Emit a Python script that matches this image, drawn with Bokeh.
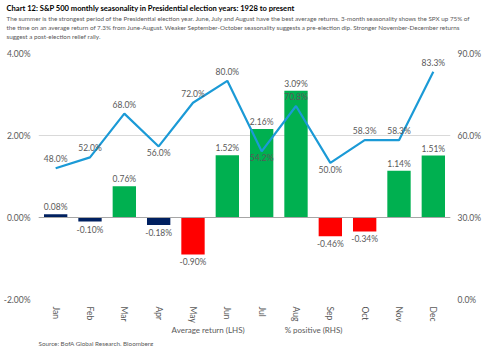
from bokeh.plotting import figure
from bokeh.layouts import column
from bokeh.models import (Range1d, LinearAxis, FixedTicker, PrintfTickFormatter,
                          ColumnDataSource, Span, Legend, LegendItem, Title, FactorRange)
from bokeh.embed import file_html
from bokeh.resources import INLINE

months = ["Jan", "Feb", "Mar", "Apr", "May", "Jun", "Jul", "Aug", "Sep", "Oct", "Nov", "Dec"]
avg_return = [0.08, -0.10, 0.76, -0.18, -0.90, 1.52, 2.16, 3.09, -0.46, -0.34, 1.14, 1.51]
pct_positive = [48.0, 52.0, 68.0, 56.0, 72.0, 80.0, 54.2, 70.8, 50.0, 58.3, 58.3, 83.3]
left_ticks = [-2, 0, 2, 4]
right_ticks = [0, 30, 60, 90]
legend_labels = ["Average return (LHS)", "% positive (RHS)"]

headline = "Chart 12: S&P 500 monthly seasonality in Presidential election years: 1928 to present"
subtitle_lines = [
    "The summer is the strongest period of the Presidential election year. June, July and August have the best average returns. 3-month seasonality shows the SPX up 75% of",
    "the time on an average return of 7.3% from June-August. Weaker September-October seasonality suggests a pre-election dip. Stronger November-December returns",
    "suggest a post-election relief rally.",
]
source_text = "Source: BofA Global Research, Bloomberg"

FONT = "Lato"
GREY = "#595959"
NAVY = "#002060"
LINE_BLUE = "#1b9ad6"

def bar_color(v):
    if abs(v) < 0.2:
        return NAVY
    return "#00b050" if v > 0 else "#ff0000"

bars = ColumnDataSource(dict(
    x=months, y=avg_return,
    color=[bar_color(v) for v in avg_return],
    label=["%.2f%%" % v for v in avg_return],
    off=[-7 if v >= 0 else 8 for v in avg_return],
))

def is_valley(i):
    if i == 0 or i == len(pct_positive) - 1:
        return False
    return pct_positive[i] < pct_positive[i - 1] and pct_positive[i] < pct_positive[i + 1]

line_src = ColumnDataSource(dict(
    x=months, y=pct_positive,
    label=["%.1f%%" % v for v in pct_positive],
    off=[7 if is_valley(i) else -9 for i in range(len(pct_positive))],
))

p = figure(width=484, height=325, x_range=FactorRange(*months, range_padding=0),
           y_range=Range1d(-2, 4), output_backend="svg", toolbar_location=None,
           min_border_bottom=0, min_border_top=0, min_border_left=0, min_border_right=0)
p.extra_y_ranges = {"rhs": Range1d(0, 90)}
p.outline_line_color = None

def style_axis(ax, standoff):
    ax.axis_line_color = None
    ax.major_tick_line_color = None
    ax.minor_tick_line_color = None
    ax.major_tick_out = 0
    ax.major_tick_in = 0
    ax.minor_tick_out = 0
    ax.minor_tick_in = 0
    ax.major_label_text_font = FONT
    ax.major_label_text_font_size = "8.5px"
    ax.major_label_text_color = GREY
    ax.major_label_standoff = standoff

p.yaxis.ticker = FixedTicker(ticks=left_ticks)
p.yaxis.formatter = PrintfTickFormatter(format="%.2f%%")
style_axis(p.yaxis[0], 8)

rax = LinearAxis(y_range_name="rhs", ticker=FixedTicker(ticks=right_ticks),
                 formatter=PrintfTickFormatter(format="%.1f%%"))
style_axis(rax, 7)
p.add_layout(rax, "right")

p.xaxis.major_label_orientation = "vertical"
style_axis(p.xaxis[0], 7)

p.xgrid.grid_line_color = None
p.ygrid.ticker = FixedTicker(ticks=left_ticks)
p.ygrid.grid_line_color = "#d9d9d9"
p.ygrid.grid_line_width = 1.2

p.add_layout(Span(location=0, dimension="width", line_color="#a6a6a6", line_width=1.2))

# bars
vb = p.vbar(x="x", top="y", bottom=0, width=0.68, fill_color="color", line_color=None, source=bars)
p.text(x="x", y="y", text="label", y_offset="off", source=bars, text_align="center",
       text_baseline="middle", text_font_size="8.5px", text_color=GREY, text_font={"value": FONT})

# line
ln = p.line(x="x", y="y", y_range_name="rhs", source=line_src, line_color=LINE_BLUE, line_width=2.2)
p.text(x="x", y="y", text="label", y_offset="off", y_range_name="rhs", source=line_src,
       text_align="center", text_baseline="middle", text_font_size="8.5px", text_color=GREY,
       text_font={"value": FONT})

# titles (first added is closest to plot); a blank spacer keeps the gap above the frame
p.add_layout(Title(text=" ", text_font=FONT, text_font_size="10px", align="left",
                   standoff=0), "above")
for line in reversed(subtitle_lines):
    p.add_layout(Title(text=line, text_font=FONT, text_font_size="6.3px", text_color=GREY,
                       text_font_style="normal", align="left", standoff=0, offset=-32), "above")
p.add_layout(Title(text=headline, text_font=FONT, text_font_size="7.6px", text_color="#000000",
                   text_font_style="bold", align="left", standoff=0, offset=-32), "above")

# footer: legend and source
f = figure(width=484, height=21, x_range=Range1d(0, 1), y_range=Range1d(0, 1),
           output_backend="svg", toolbar_location=None,
           min_border_bottom=0, min_border_top=0, min_border_left=0, min_border_right=0)
f.axis.visible = False
f.grid.grid_line_color = None
f.outline_line_color = None
sw_bar = f.vbar(x=[], top=[], width=0.1, fill_color=NAVY, line_color=None)
sw_line = f.line(x=[], y=[], line_color=LINE_BLUE, line_width=2.2)
legend = Legend(items=[LegendItem(label=legend_labels[0], renderers=[sw_bar]),
                       LegendItem(label=legend_labels[1], renderers=[sw_line])],
                orientation="horizontal", location="top_center", border_line_color=None,
                background_fill_alpha=0,
                label_text_font=FONT, label_text_font_size="8px",
                label_text_color=GREY, glyph_width=22, glyph_height=5, spacing=14,
                padding=0, margin=0, label_standoff=4, label_height=10)
f.add_layout(legend, "center")
f.add_layout(Title(text=source_text, text_font=FONT, text_font_size="6.3px", text_color=GREY,
                   text_font_style="normal", align="left", offset=0, standoff=0), "below")

layout = column(p, f, spacing=0)
open("out.html", "w").write(file_html(layout, INLINE))
